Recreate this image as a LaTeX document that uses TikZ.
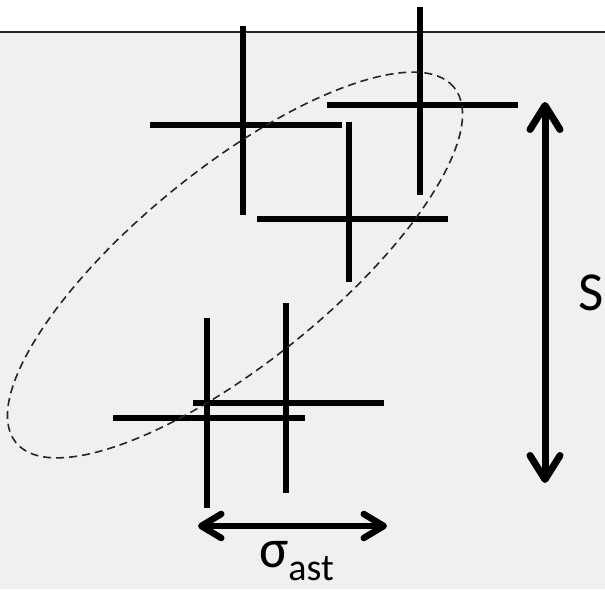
\documentclass[tikz,border=0pt]{standalone}
\usepackage{fontspec}
\setmainfont{Carlito}
\usetikzlibrary{arrows.meta}
\definecolor{panel}{HTML}{F0F0F0}
\begin{document}
\begin{tikzpicture}[x=1pt,y=-1pt,
  bar/.style={line width=6pt,black},
  dimarrow/.style={line width=7pt,line cap=round,
    {Straight Barb[length=24pt,width=30pt,line cap=round,line join=round]}-{Straight Barb[length=24pt,width=30pt,line cap=round,line join=round]}},
  smallarrow/.style={line width=6.5pt,line cap=round,
    {Straight Barb[length=20pt,width=24pt,line cap=round,line join=round]}-{Straight Barb[length=20pt,width=24pt,line cap=round,line join=round]}},
  ellip/.style={line width=1.6pt,black!85,dash pattern=on 8pt off 5pt},
  lbl/.style={inner sep=0pt,font=\fontsize{55}{55}\selectfont}
]
\useasboundingbox (0,0) rectangle (605,589);
\fill[white] (0,0) rectangle (605,589);
\fill[panel] (0,32) rectangle (605,589);
\draw[line width=2pt,black!85] (0,32) -- (605,32);

% crosses
\draw[bar] (243,26) -- (243,215);  \draw[bar] (150,125) -- (342,125);
\draw[bar] (420,7) -- (420,195);   \draw[bar] (327,105) -- (518,105);
\draw[bar] (349,122) -- (349,282); \draw[bar] (257,219) -- (448,219);
\draw[bar] (207,318) -- (207,508); \draw[bar] (113,418) -- (305,418);
\draw[bar] (286,303) -- (286,493); \draw[bar] (193,403) -- (384,403);

% ellipse
\draw[ellip,rotate around={39:(235,265)}] (235,265) ellipse [x radius=282pt, y radius=97pt];

% S arrow
\coordinate (sT) at (545,102);
\coordinate (sB) at (545,483);
\draw[dimarrow] (sT) -- (sB);
\node[lbl,anchor=base] (S) at (591,310) {S};

% sigma arrow
\coordinate (gL) at (198,526);
\coordinate (gR) at (387,526);
\draw[smallarrow] (gL) -- (gR);
\node[lbl,anchor=base west] (sig) at (259,567) {σ{\fontsize{38}{38}\selectfont\raisebox{-13pt}{ast}}};
\end{tikzpicture}
\end{document}
